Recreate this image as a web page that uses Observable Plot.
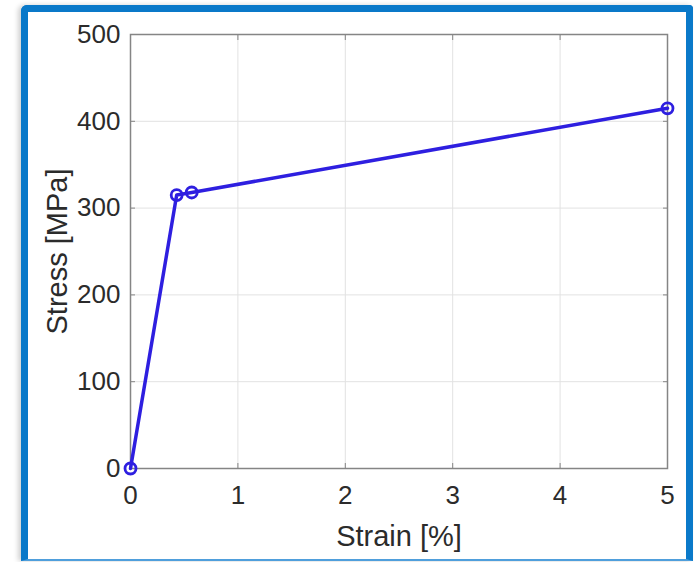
<!DOCTYPE html>
<html>
<head>
<meta charset="utf-8">
<script src="https://cdn.jsdelivr.net/npm/d3@7"></script>
<script src="https://cdn.jsdelivr.net/npm/@observablehq/plot@0.6"></script>
<style>
  html, body { margin: 0; padding: 0; background: #fff; }
  #wrap { position: relative; width: 694px; height: 562px; overflow: hidden; background: #fff; }
  #panel {
    position: absolute; left: 21px; top: 5px; width: 658px; height: 547px;
    border: 7px solid #0a79c9; border-bottom: 2px solid #4f9fdc;
    border-radius: 6px 4px 0 0;
    box-shadow: -3px 0 5px rgba(0,0,0,0.18);
    background: #fff;
  }
  #chart { position: absolute; left: 0; top: 0; }
</style>
</head>
<body>
<div id="wrap"><div id="panel"></div><div id="chart"></div></div>
<script>
// Stress–strain curve points
const strain = [0, 0.43, 0.57, 5];
const stress = [0, 315, 318, 415];

// Tick values
const xTicks = [0, 1, 2, 3, 4, 5];
const yTicks = [0, 100, 200, 300, 400, 500];

const xLabel = "Strain [%]";
const yLabel = "Stress [MPa]";

const points = strain.map((s, i) => ({strain: s, stress: stress[i]}));

const lineColor = "#2e1fe0";
const axisColor = "#858585";
const font = "'Liberation Sans', Arial, Helvetica, sans-serif";

const chart = Plot.plot({
  width: 694,
  height: 562,
  marginLeft: 130,
  marginRight: 27,
  marginTop: 34,
  marginBottom: 94,
  style: {background: "transparent", fontFamily: font, color: "#2b2b2b"},
  x: {domain: [0, 5]},
  y: {domain: [0, 500]},
  marks: [
    Plot.gridX(xTicks, {stroke: "#e2e2e2", strokeOpacity: 1}),
    Plot.gridY(yTicks, {stroke: "#e2e2e2", strokeOpacity: 1}),
    // inward ticks on all four sides
    Plot.axisX(xTicks, {anchor: "bottom", tickSize: -5, tickPadding: 22, fontSize: 26, stroke: axisColor, label: null, tickFormat: d => String(d)}),
    Plot.axisX(xTicks, {anchor: "top", tickSize: -5, tickFormat: () => "", stroke: axisColor, label: null}),
    Plot.axisY(yTicks, {anchor: "left", tickSize: -5, tickPadding: 15, fontSize: 26, stroke: axisColor, label: null, tickFormat: d => String(d)}),
    Plot.axisY(yTicks, {anchor: "right", tickSize: -5, tickFormat: () => "", stroke: axisColor, label: null}),
    Plot.frame({stroke: axisColor, strokeWidth: 1.5}),
    Plot.text([xLabel], {frameAnchor: "bottom", dy: 68, lineAnchor: "middle", textAnchor: "middle", fontSize: 29, fill: "#2b2b2b"}),
    Plot.text([yLabel], {frameAnchor: "left", dx: -73, rotate: -90, lineAnchor: "middle", textAnchor: "middle", fontSize: 29, fill: "#2b2b2b"}),
    Plot.line(points, {x: "strain", y: "stress", stroke: lineColor, strokeWidth: 3.5}),
    Plot.dot(points, {x: "strain", y: "stress", r: 5.5, stroke: lineColor, strokeWidth: 2.8, fill: "none"})
  ]
});

document.getElementById("chart").appendChild(chart);
</script>
</body>
</html>
